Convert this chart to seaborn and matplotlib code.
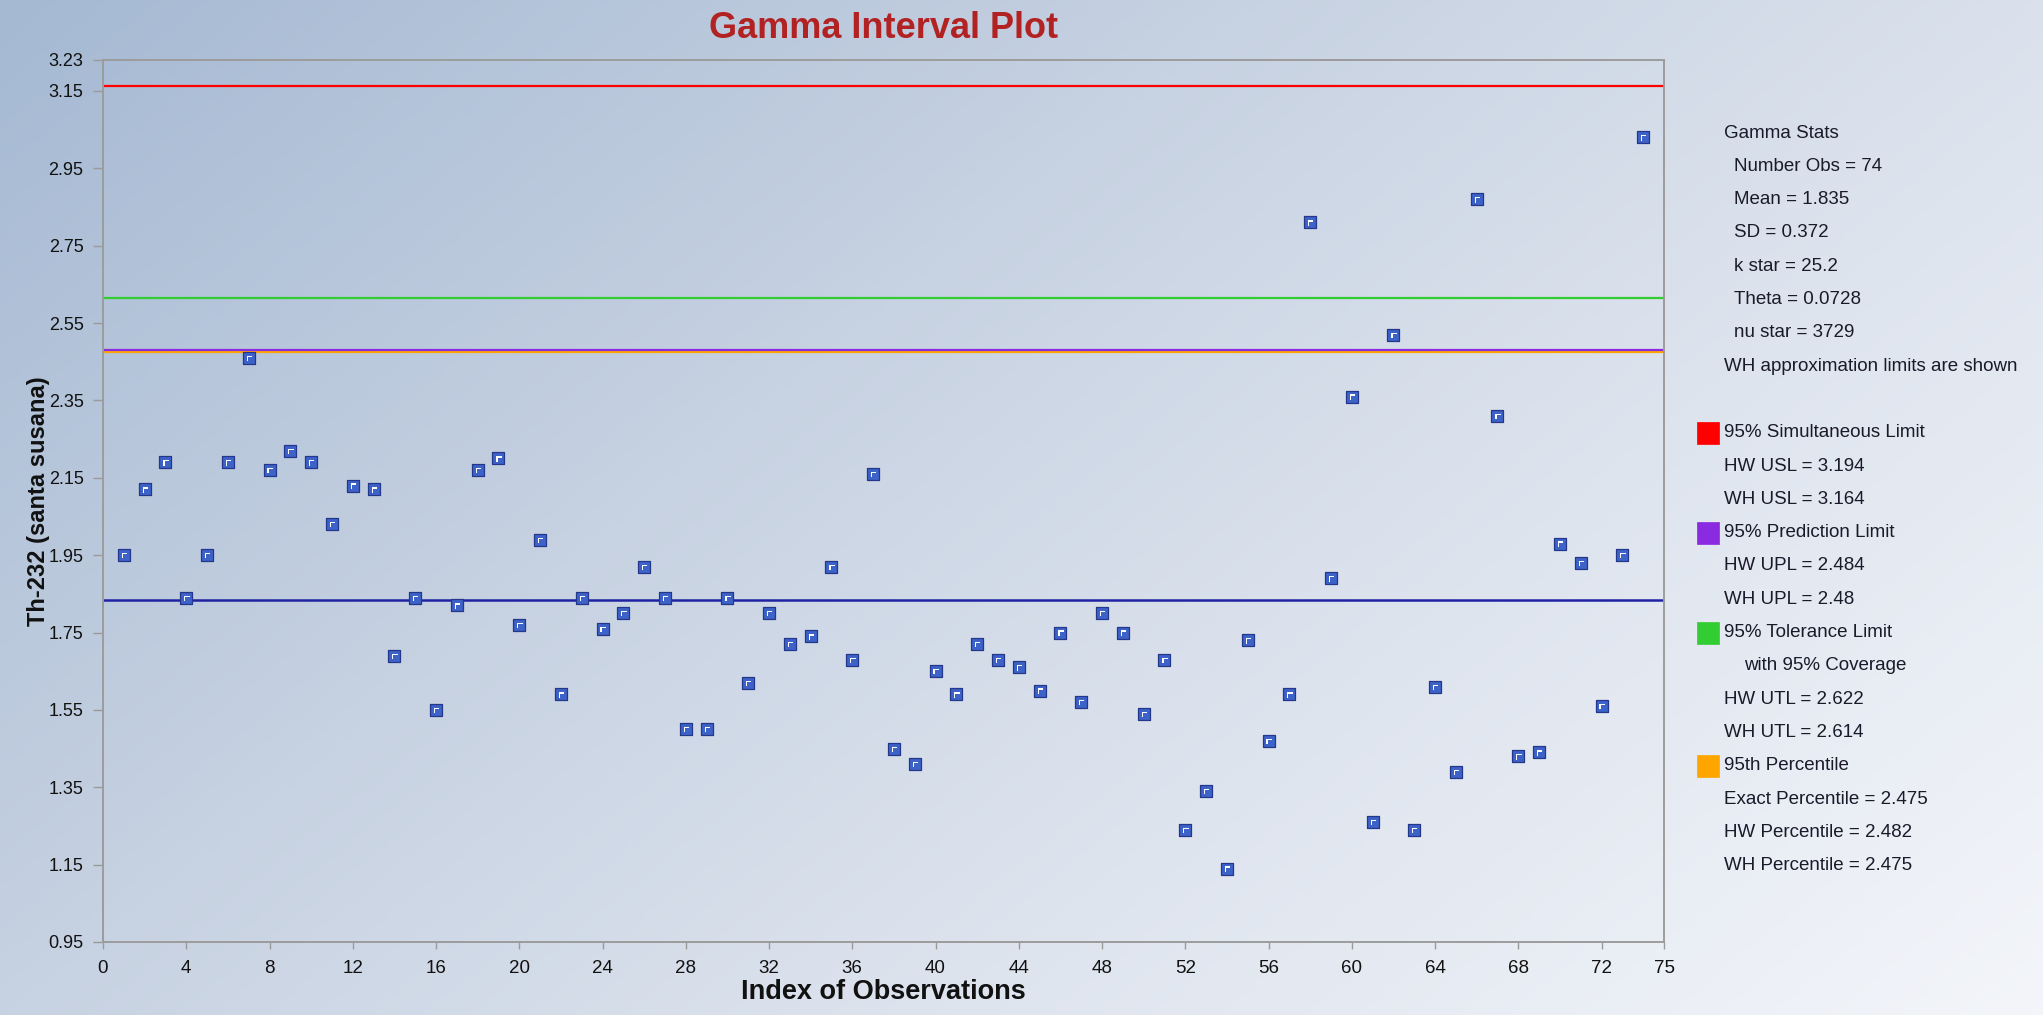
import numpy as np
import pandas as pd
import matplotlib
matplotlib.use("Agg")
import matplotlib.pyplot as plt
import seaborn as sns
from matplotlib.path import Path
from matplotlib.colors import LinearSegmentedColormap

# ---- data -----------------------------------------------------------------
obs_index = list(range(1, 75))
th232 = [
    1.95, 2.12, 2.19, 1.84, 1.95, 2.19, 2.46, 2.17, 2.22, 2.19,
    2.03, 2.13, 2.12, 1.69, 1.84, 1.55, 1.82, 2.17, 2.20, 1.77,
    1.99, 1.59, 1.84, 1.76, 1.80, 1.92, 1.84, 1.50, 1.50, 1.84,
    1.62, 1.80, 1.72, 1.74, 1.92, 1.68, 2.16, 1.45, 1.41, 1.65,
    1.59, 1.72, 1.68, 1.66, 1.60, 1.75, 1.57, 1.80, 1.75, 1.54,
    1.68, 1.24, 1.34, 1.14, 1.73, 1.47, 1.59, 2.81, 1.89, 2.36,
    1.26, 2.52, 1.24, 1.61, 1.39, 2.87, 2.31, 1.43, 1.44, 1.98,
    1.93, 1.56, 1.95, 3.03,
]

mean_value = 1.835
limit_names = ["95% Simultaneous Limit", "95% Tolerance Limit",
               "95th Percentile", "95% Prediction Limit"]
limit_values = [3.164, 2.614, 2.475, 2.48]
limit_colors = ["#ff0000", "#32cd32", "#ffa500", "#8a2be2"]

y_ticks = [0.95, 1.15, 1.35, 1.55, 1.75, 1.95, 2.15, 2.35, 2.55, 2.75, 2.95, 3.15, 3.23]
x_ticks = [0, 4, 8, 12, 16, 20, 24, 28, 32, 36, 40, 44, 48, 52, 56, 60, 64, 68, 72, 75]

# side panel: (text, indent in px, swatch colour)
panel_lines = [
    ("Gamma Stats", 0, None),
    ("Number Obs = 74", 10, None),
    ("Mean = 1.835", 10, None),
    ("SD = 0.372", 10, None),
    ("k star = 25.2", 10, None),
    ("Theta = 0.0728", 10, None),
    ("nu star = 3729", 10, None),
    ("WH approximation limits are shown", 0, None),
    ("", 0, None),
    ("95% Simultaneous Limit", 0, "#ff0000"),
    ("HW USL = 3.194", 0, None),
    ("WH USL = 3.164", 0, None),
    ("95% Prediction Limit", 0, "#8a2be2"),
    ("HW UPL = 2.484", 0, None),
    ("WH UPL = 2.48", 0, None),
    ("95% Tolerance Limit", 0, "#32cd32"),
    ("with 95% Coverage", 20, None),
    ("HW UTL = 2.622", 0, None),
    ("WH UTL = 2.614", 0, None),
    ("95th Percentile", 0, "#ffa500"),
    ("Exact Percentile = 2.475", 0, None),
    ("HW Percentile = 2.482", 0, None),
    ("WH Percentile = 2.475", 0, None),
]

df = pd.DataFrame({"index": obs_index, "value": th232})

# ---- styling --------------------------------------------------------------
sns.set_style("ticks")
narrow = ["Liberation Sans Narrow", "Liberation Sans", "DejaVu Sans"]
regular = ["Liberation Sans", "Arial", "DejaVu Sans"]
plt.rcParams["font.family"] = regular

W, H = 2043, 1015
fig = plt.figure(figsize=(W / 100, H / 100), dpi=100)

# diagonal steel-blue to white background
bg = fig.add_axes([0, 0, 1, 1], zorder=-10)
gx, gy = np.meshgrid(np.linspace(0, 1, 400), np.linspace(0, 1, 200))
grad = 0.62 * gx + 0.38 * gy
cmap = LinearSegmentedColormap.from_list(
    "bg", ["#a5b9d3", "#c3cfe0", "#dee4ee", "#f3f5fa"])
bg.imshow(grad, cmap=cmap, aspect="auto", extent=[0, 1, 0, 1], origin="upper")
bg.set_axis_off()
fig.patch.set_edgecolor("#a0a0a0")
fig.patch.set_linewidth(2)

left, right = 103 / W, 1664 / W
top, bottom = 1 - 60 / H, 1 - 942 / H
ax = fig.add_axes([left, bottom, right - left, top - bottom])
ax.set_facecolor("none")

# limit lines and mean line
for val, col in zip(limit_values, limit_colors):
    ax.axhline(val, color=col, lw=1.6, zorder=2)
ax.axhline(mean_value, color="#1f23a3", lw=1.8, zorder=2)

# observation markers
sns.scatterplot(data=df, x="index", y="value", marker="s", s=72,
                color="#3d62c8", edgecolor="#24378a", linewidth=0.9,
                zorder=4, ax=ax, legend=False)
# white corner highlight inside each marker
corner = Path([(-0.35, -0.55), (-0.35, 0.35), (0.55, 0.35), (0.55, 0.15),
               (-0.15, 0.15), (-0.15, -0.55), (-0.35, -0.55)],
              [Path.MOVETO] + [Path.LINETO] * 5 + [Path.CLOSEPOLY])
sns.scatterplot(data=df, x="index", y="value", marker=corner, s=22,
                color="white", edgecolor="none", linewidth=0,
                zorder=5, ax=ax, legend=False)

ax.set_xlim(0, 75)
ax.set_ylim(0.95, 3.23)
ax.set_xticks(x_ticks)
ax.set_xticklabels([str(t) for t in x_ticks], fontfamily=narrow, fontsize=13.5)
ax.set_yticks(y_ticks)
ax.set_yticklabels([f"{t:.2f}" for t in y_ticks], fontfamily=narrow, fontsize=13)
ax.tick_params(axis="x", length=5, width=1, color="#9a9a9a", pad=8, labelcolor="#111111")
ax.tick_params(axis="y", length=7, width=1, color="#9a9a9a", pad=7, labelcolor="#111111")
for sp in ax.spines.values():
    sp.set_visible(True)
    sp.set_color("#9c9c9c")
    sp.set_linewidth(1.4)
ax.set_xlabel("")
ax.set_ylabel("")

# titles
fig.text((103 + 1664) / 2 / W, 1 - 29 / H, "Gamma Interval Plot",
         ha="center", va="center", fontsize=26, fontweight="bold",
         color="#b22222", fontfamily=narrow)
fig.text((103 + 1664) / 2 / W, 1 - 992 / H, "Index of Observations",
         ha="center", va="center", fontsize=19.5, fontweight="bold",
         color="#111111", fontfamily=narrow)
fig.text(39 / W, 1 - 501 / H, "Th-232 (santa susana)", rotation=90,
         ha="center", va="center", fontsize=17, fontweight="bold",
         color="#111111", fontfamily=regular)

# side panel text
y0, step = 133.0, 33.3
for i, (txt, indent, swatch) in enumerate(panel_lines):
    yc = y0 + i * step
    if txt:
        fig.text((1724 + indent) / W, 1 - yc / H, txt, ha="left", va="center",
                 fontsize=13.5, color="#1a1a2a", fontfamily=regular)
    if swatch:
        fig.patches.append(plt.Rectangle(((1697) / W, 1 - (yc + 11) / H),
                                         22 / W, 22 / H, transform=fig.transFigure,
                                         facecolor=swatch, edgecolor=swatch,
                                         linewidth=0.5, figure=fig))

fig.savefig("out.png", dpi=100)
